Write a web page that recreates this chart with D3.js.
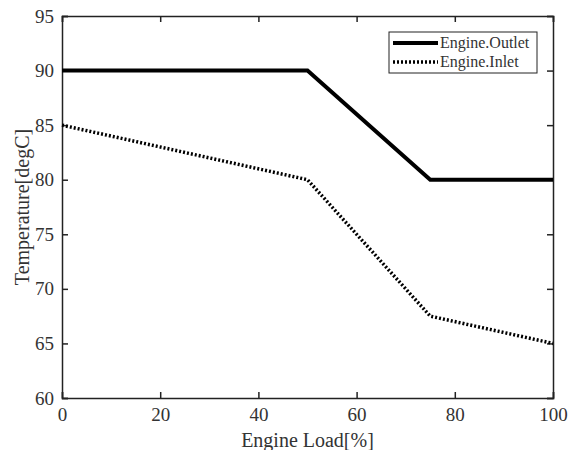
<!DOCTYPE html>
<html>
<head>
<meta charset="utf-8">
<script src="https://cdn.jsdelivr.net/npm/d3@7"></script>
<style>
  body { margin: 0; background: #fff; }
  text { font-family: "Liberation Serif", "Times New Roman", serif; fill: #333; }
</style>
</head>
<body>
<script>
// chart size
var w = 575;
var h = 450;
var margin = {top: 16, right: 22, bottom: 52, left: 62};

// data
var load = [0, 50, 75, 100];
var outletTemp = [90, 90, 80, 80];
var inletTemp = [85, 80, 67.5, 65];
var xTicks = [0, 20, 40, 60, 80, 100];
var yTicks = [60, 65, 70, 75, 80, 85, 90, 95];
var seriesNames = ["Engine.Outlet", "Engine.Inlet"];

var svg = d3.select("body").append("svg")
  .attr("width", w)
  .attr("height", h);

var x = d3.scaleLinear().domain([0, 100]).range([margin.left, w - margin.right]);
var y = d3.scaleLinear().domain([60, 95]).range([h - margin.bottom, margin.top]);

// axes, MATLAB style: ticks inside, box all round
var tickLen = 6;
svg.append("g")
  .attr("transform", "translate(0," + y(60) + ")")
  .call(d3.axisBottom(x).tickValues(xTicks).tickSize(-tickLen).tickPadding(10))
  .call(function(g) {
    g.selectAll("text").style("font-size", "19px");
  });
svg.append("g")
  .attr("transform", "translate(" + x(0) + ",0)")
  .call(d3.axisLeft(y).tickValues(yTicks).tickSize(-tickLen).tickPadding(8))
  .call(function(g) {
    g.selectAll("text").style("font-size", "19px");
  });
svg.append("g")
  .attr("transform", "translate(0," + y(95) + ")")
  .call(d3.axisTop(x).tickValues(xTicks).tickSize(-tickLen).tickFormat(""));
svg.append("g")
  .attr("transform", "translate(" + x(100) + ",0)")
  .call(d3.axisRight(y).tickValues(yTicks).tickSize(-tickLen).tickFormat(""));

svg.selectAll(".domain, .tick line")
  .attr("stroke", "#222")
  .attr("stroke-width", 1.5);

// lines
var line = d3.line()
  .x(function(d) { return x(d[0]); })
  .y(function(d) { return y(d[1]); });

svg.append("path")
  .datum(d3.zip(load, outletTemp))
  .attr("d", line)
  .attr("fill", "none")
  .attr("stroke", "#000")
  .attr("stroke-width", 4);

svg.append("path")
  .datum(d3.zip(load, inletTemp))
  .attr("d", line)
  .attr("fill", "none")
  .attr("stroke", "#000")
  .attr("stroke-width", 3.5)
  .attr("stroke-dasharray", "2,2");

// axis labels
svg.append("text")
  .attr("x", (x(0) + x(100)) / 2)
  .attr("y", 447)
  .attr("text-anchor", "middle")
  .style("font-size", "20px")
  .text("Engine Load[%]");

svg.append("text")
  .attr("transform", "translate(29," + ((y(60) + y(95)) / 2) + ") rotate(-90)")
  .attr("text-anchor", "middle")
  .style("font-size", "20px")
  .text("Temperature[degC]");

// legend
var leg = svg.append("g").attr("transform", "translate(389,32)");
leg.append("rect")
  .attr("width", 148)
  .attr("height", 41)
  .attr("fill", "#fff")
  .attr("stroke", "#222")
  .attr("stroke-width", 1);

var legStyles = [{dash: null, width: 4}, {dash: "2,2", width: 3.5}];
seriesNames.forEach(function(name, i) {
  var ly = 11 + i * 19;
  leg.append("line")
    .attr("x1", 4).attr("x2", 49)
    .attr("y1", ly).attr("y2", ly)
    .attr("stroke", "#000")
    .attr("stroke-width", legStyles[i].width)
    .attr("stroke-dasharray", legStyles[i].dash);
  leg.append("text")
    .attr("x", 51)
    .attr("y", ly + 5)
    .style("font-size", "16px")
    .text(name);
});
</script>
</body>
</html>
